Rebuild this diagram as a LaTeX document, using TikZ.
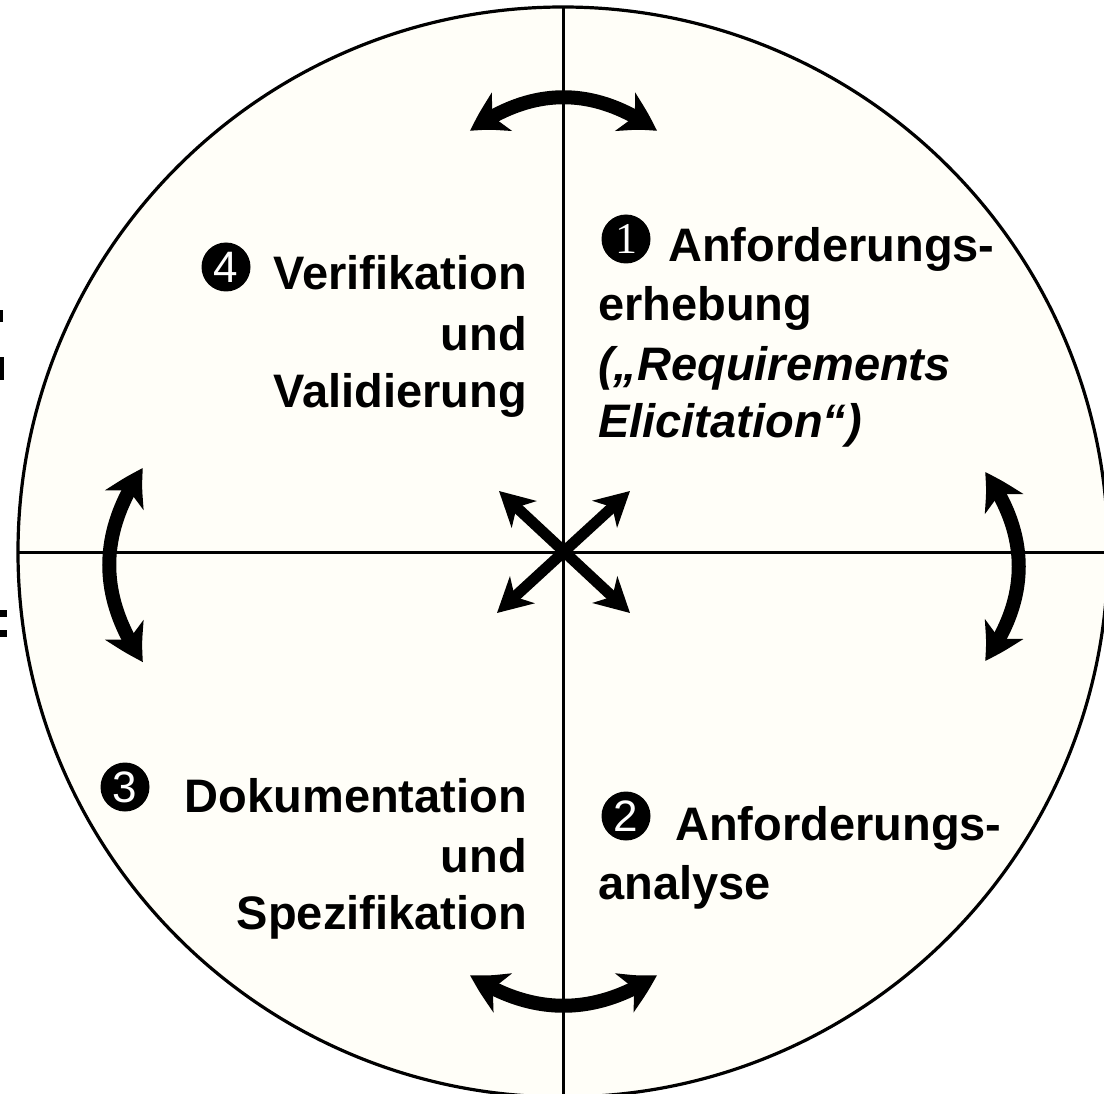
\documentclass[tikz,border=0pt]{standalone}
\usepackage{fontspec}
\setmainfont{Liberation Sans}
\newfontfamily\numserif{Liberation Serif}
\usetikzlibrary{arrows.meta,bending}
\definecolor{paper}{RGB}{255,254,248}
\tikzset{
  big/.style={font=\fontsize{47}{58}\selectfont\bfseries, inner sep=0pt},
  bigit/.style={font=\fontsize{47}{58}\selectfont\bfseries\itshape, inner sep=0pt},
  numdot/.style={circle, fill=black, minimum size=49pt, inner sep=0pt, text=white, font=\fontsize{44}{44}\selectfont},
  axis/.style={line width=3pt},
  cyc/.style={line width=14pt, {Stealth[length=38pt,width=42pt,inset=11pt,bend]}-{Stealth[length=38pt,width=42pt,inset=11pt,bend]}},
  cross/.style={line width=11pt, {Stealth[length=34pt,width=36pt,inset=10pt]}-{Stealth[length=34pt,width=36pt,inset=10pt]}}
}
\begin{document}
\begin{tikzpicture}[x=1pt,y=-1pt]
\useasboundingbox (0,0) rectangle (1104,1094);
\clip (0,0) rectangle (1104,1094);
% clipped fragments at the left edge
\fill (0,310) rectangle (3,322);
\fill (0,357) rectangle (3.5,380);
\fill (0,610) rectangle (7,617);
\fill (0,630) rectangle (7,637);
% circle and axes
\coordinate (c) at (563,552);
\filldraw[fill=paper, line width=3.2pt] (c) circle[radius=545];
\coordinate (top) at (563,8);
\coordinate (bot) at (563,1094);
\coordinate (lft) at (18,552);
\coordinate (rgt) at (1104,552);
\draw[axis] (top) -- (bot);
\draw[axis] (lft) -- (rgt);
% cycle arrows
\coordinate (t1) at (470,131); \coordinate (t2) at (657,131);
\draw[cyc] (t1) .. controls (532,86) and (595,86) .. (t2);
\coordinate (b1) at (470,975); \coordinate (b2) at (657,975);
\draw[cyc] (b1) .. controls (532,1016) and (595,1016) .. (b2);
\coordinate (l1) at (143,468); \coordinate (l2) at (143,662);
\draw[cyc] (l1) .. controls (98,533) and (98,597) .. (l2);
\coordinate (r1) at (985,472); \coordinate (r2) at (985,661);
\draw[cyc] (r1) .. controls (1030,535) and (1030,598) .. (r2);
% cross arrows
\coordinate (x1) at (499,491); \coordinate (x2) at (630,613);
\coordinate (x3) at (630,491); \coordinate (x4) at (497,613);
\draw[cross] (x1) -- (x2);
\draw[cross] (x3) -- (x4);
% quadrant 1
\node[numdot] (n1) at (626,239) {\numserif 1};
\node[big, anchor=base west] (q1a) at (668,262) {Anforderungs-};
\node[big, anchor=base west] (q1b) at (598,321) {erhebung};
\node[bigit, anchor=base west] (q1c) at (598,380) {(„Requirements};
\node[bigit, anchor=base west] (q1d) at (598,437) {Elicitation“)};
% quadrant 4
\node[numdot] (n4) at (226,267) {4};
\node[big, anchor=base east] (q4a) at (527,290) {Verifikation};
\node[big, anchor=base east] (q4b) at (527,350) {und};
\node[big, anchor=base east] (q4c) at (527,407) {Validierung};
% quadrant 3
\node[numdot] (n3) at (125,787) {3};
\node[big, anchor=base east] (q3a) at (527,812) {Dokumentation};
\node[big, anchor=base east] (q3b) at (527,872) {und};
\node[big, anchor=base east] (q3c) at (527,929) {Spezifikation};
% quadrant 2
\node[numdot] (n2) at (626,816) {2};
\node[big, anchor=base west] (q2a) at (675,840) {Anforderungs-};
\node[big, anchor=base west] (q2b) at (598,899) {analyse};
\end{tikzpicture}
\end{document}
